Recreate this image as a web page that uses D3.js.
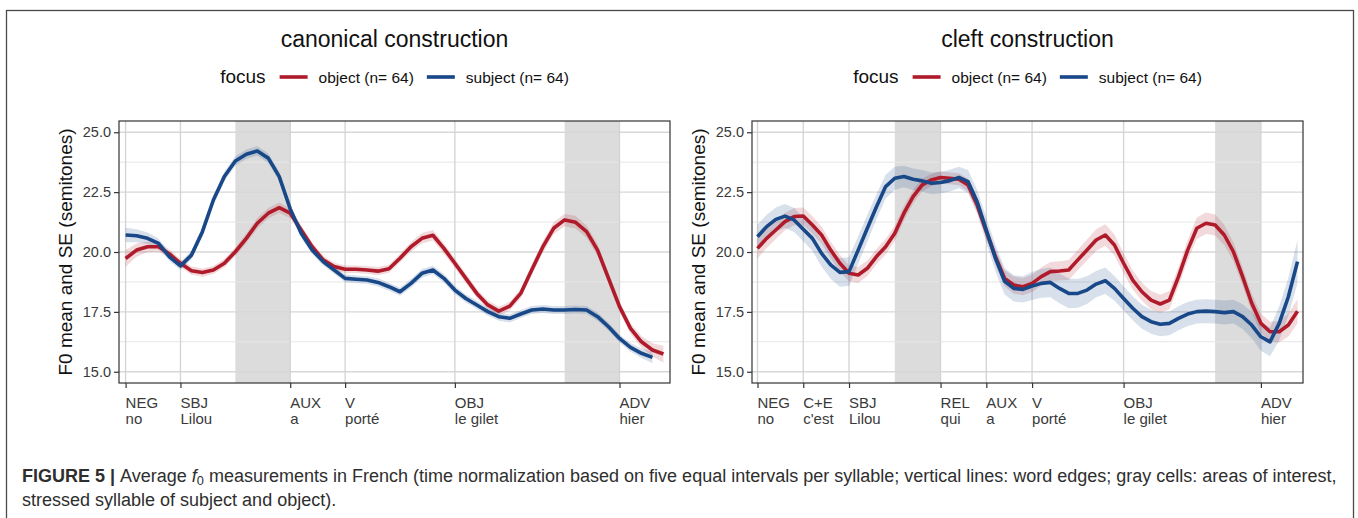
<!DOCTYPE html>
<html>
<head>
<meta charset="utf-8">
<script src="https://cdn.jsdelivr.net/npm/d3@7"></script>
<style>
  html, body { margin: 0; padding: 0; background: #fff; }
  svg { display: block; font-family: "Liberation Sans", Arial, Helvetica, sans-serif; }
</style>
</head>
<body>
<svg id="fig" width="1358" height="518"></svg>
<script>
// ---- words and syllable counts (x axis is in syllables, 5 samples per syllable) ----
const canonicalWords = ["NEG", "SBJ", "AUX", "V", "OBJ", "ADV"];
const canonicalText  = ["no", "Lilou", "a", "porté", "le gilet", "hier"];
const canonicalSyll  = [1, 2, 1, 2, 3, 1];
const canonicalAreas = [[2, 3], [8, 9]];

const cleftWords = ["NEG", "C+E", "SBJ", "REL", "AUX", "V", "OBJ", "ADV"];
const cleftText  = ["no", "c'est", "Lilou", "qui", "a", "porté", "le gilet", "hier"];
const cleftSyll  = [1, 1, 2, 1, 1, 2, 3, 1];
const cleftAreas = [[3, 4], [10, 11]];

const yTicks = [15.0, 17.5, 20.0, 22.5, 25.0];
const yMinor = [16.25, 18.75, 21.25, 23.75];

// ---- F0 means (semitones) ----
const canonicalObject = [
  19.73, 20.08, 20.22, 20.22, 19.92,
  19.53, 19.22, 19.14, 19.25, 19.53,
  20.01, 20.57, 21.20, 21.62, 21.85,
  21.62, 20.92, 20.22, 19.67, 19.39,
  19.28, 19.28, 19.25, 19.20, 19.30,
  19.74, 20.22, 20.57, 20.70, 20.15,
  19.53, 18.90, 18.27, 17.79, 17.53,
  17.74, 18.27, 19.25, 20.20, 20.99,
  21.34, 21.24, 20.85, 20.08, 18.90,
  17.72, 16.81, 16.25, 15.91, 15.74
];
const canonicalSubject = [
  20.71, 20.68, 20.57, 20.36, 19.80,
  19.42, 19.87, 20.85, 22.17, 23.15,
  23.80, 24.08, 24.22, 23.92, 23.15,
  21.80, 20.78, 20.08, 19.60, 19.25,
  18.90, 18.86, 18.83, 18.73, 18.55,
  18.34, 18.69, 19.11, 19.25, 18.90,
  18.41, 18.06, 17.79, 17.51, 17.30,
  17.23, 17.41, 17.58, 17.62, 17.58,
  17.58, 17.60, 17.58, 17.30, 16.88,
  16.39, 16.02, 15.77, 15.60
];
const cleftObject = [
  20.15, 20.57, 20.92, 21.27, 21.48,
  21.50, 21.13, 20.71, 20.08, 19.53,
  19.11, 19.04, 19.32, 19.81, 20.22,
  20.78, 21.62, 22.31, 22.80, 23.01,
  23.11, 23.08, 23.04, 22.80, 21.96,
  20.85, 19.80, 18.90, 18.62, 18.55,
  18.69, 18.97, 19.18, 19.21, 19.25,
  19.67, 20.08, 20.50, 20.71, 20.29,
  19.53, 18.83, 18.34, 17.99, 17.83,
  17.99, 18.97, 20.08, 20.99, 21.20,
  21.13, 20.71, 20.01, 18.97, 17.86,
  17.02, 16.67, 16.67, 16.95, 17.53
];
const cleftSubject = [
  20.64, 21.06, 21.36, 21.50, 21.34,
  20.95, 20.57, 19.94, 19.46, 19.15,
  19.18, 20.08, 20.99, 21.89, 22.73,
  23.08, 23.15, 23.04, 22.97, 22.87,
  22.90, 22.98, 23.11, 22.94, 22.10,
  20.92, 19.74, 18.78, 18.48, 18.44,
  18.58, 18.69, 18.73, 18.48, 18.27,
  18.27, 18.41, 18.66, 18.80, 18.48,
  18.06, 17.65, 17.30, 17.09, 16.98,
  17.02, 17.23, 17.41, 17.51, 17.53,
  17.51, 17.47, 17.51, 17.30, 16.95,
  16.46, 16.25, 17.02, 18.13, 19.60
];

// ---- standard errors ----
const canonicalObjectSE = [
  0.35, 0.28, 0.22, 0.20, 0.18,
  0.17, 0.17, 0.17, 0.17, 0.18,
  0.18, 0.20, 0.22, 0.22, 0.22,
  0.20, 0.20, 0.18, 0.17, 0.16,
  0.16, 0.16, 0.16, 0.17, 0.17,
  0.18, 0.20, 0.22, 0.22, 0.22,
  0.20, 0.20, 0.18, 0.18, 0.18,
  0.18, 0.20, 0.22, 0.24, 0.25,
  0.26, 0.26, 0.26, 0.25, 0.24,
  0.22, 0.22, 0.24, 0.28, 0.35
];
const canonicalSubjectSE = [
  0.30, 0.27, 0.24, 0.20, 0.18,
  0.17, 0.18, 0.20, 0.20, 0.20,
  0.20, 0.20, 0.20, 0.20, 0.20,
  0.20, 0.18, 0.17, 0.16, 0.16,
  0.16, 0.16, 0.16, 0.17, 0.17,
  0.17, 0.18, 0.18, 0.18, 0.18,
  0.17, 0.17, 0.17, 0.17, 0.17,
  0.17, 0.17, 0.17, 0.17, 0.17,
  0.17, 0.17, 0.17, 0.17, 0.17,
  0.17, 0.18, 0.20, 0.25
];
const cleftObjectSE = [
  0.42, 0.40, 0.38, 0.36, 0.36,
  0.36, 0.36, 0.35, 0.35, 0.35,
  0.34, 0.33, 0.32, 0.32, 0.32,
  0.32, 0.30, 0.28, 0.26, 0.25,
  0.25, 0.25, 0.25, 0.26, 0.28,
  0.30, 0.32, 0.34, 0.36, 0.36,
  0.36, 0.38, 0.40, 0.40, 0.42,
  0.42, 0.44, 0.45, 0.45, 0.44,
  0.42, 0.40, 0.38, 0.38, 0.38,
  0.38, 0.40, 0.42, 0.45, 0.45,
  0.44, 0.42, 0.40, 0.38, 0.38,
  0.40, 0.42, 0.45, 0.48, 0.50
];
const cleftSubjectSE = [
  0.50, 0.50, 0.50, 0.50, 0.50,
  0.50, 0.52, 0.55, 0.58, 0.60,
  0.60, 0.58, 0.55, 0.52, 0.50,
  0.48, 0.45, 0.45, 0.45, 0.45,
  0.45, 0.45, 0.45, 0.48, 0.50,
  0.52, 0.55, 0.55, 0.55, 0.55,
  0.58, 0.60, 0.62, 0.62, 0.62,
  0.60, 0.58, 0.55, 0.55, 0.52,
  0.50, 0.50, 0.50, 0.50, 0.50,
  0.50, 0.50, 0.50, 0.50, 0.50,
  0.50, 0.50, 0.50, 0.52, 0.55,
  0.58, 0.60, 0.70, 0.80, 0.90
];

const focusLabels = ["object (n= 64)", "subject (n= 64)"];
const focusColors = ["#b01b2b", "#184888"];

// ---- drawing ----
const svg = d3.select("#fig");
svg.append("rect").attr("width", 1358).attr("height", 518).attr("fill", "#fff");
// outer frame around figure and caption
svg.append("rect")
  .attr("x", 6.5).attr("y", 10.5).attr("width", 1347).attr("height", 540)
  .attr("fill", "none").attr("stroke", "#4a4a4a").attr("stroke-width", 1.3);

const PLOT_TOP = 121, PLOT_BOTTOM = 383;

function cumulative(sylls) {
  const out = [];
  let acc = 0;
  sylls.forEach(s => { out.push(acc); acc += s; });
  return { starts: out, total: acc };
}

function drawPanel(cfg) {
  const { left, right, title, words, texts, sylls, areas, series } = cfg;
  const { starts, total } = cumulative(sylls);
  const x = d3.scaleLinear().domain([-0.12, total - 0.08]).range([left, right]);
  const y = d3.scaleLinear().domain([14.53, 25.47]).range([PLOT_BOTTOM, PLOT_TOP]);
  const g = svg.append("g");

  // gray cells
  g.selectAll("rect.area").data(areas).join("rect")
    .attr("x", d => x(d[0])).attr("width", d => x(d[1]) - x(d[0]))
    .attr("y", PLOT_TOP).attr("height", PLOT_BOTTOM - PLOT_TOP)
    .attr("fill", "#dcdcdc");

  // grid
  g.selectAll("line.ymin").data(yMinor).join("line")
    .attr("x1", left).attr("x2", right)
    .attr("y1", d => y(d)).attr("y2", d => y(d))
    .attr("stroke", "#e6e6e6").attr("stroke-width", 1);
  g.selectAll("line.ymaj").data(yTicks).join("line")
    .attr("x1", left).attr("x2", right)
    .attr("y1", d => y(d)).attr("y2", d => y(d))
    .attr("stroke", "#d7d7d7").attr("stroke-width", 1.3);
  g.selectAll("line.xmaj").data(starts).join("line")
    .attr("x1", d => x(d)).attr("x2", d => x(d))
    .attr("y1", PLOT_TOP).attr("y2", PLOT_BOTTOM)
    .attr("stroke", "#d3d3d3").attr("stroke-width", 1.3);

  // ribbons then lines
  const tx = (d, i) => x(i / 5);
  series.forEach((s, k) => {
    const area = d3.area()
      .x((d, i) => x(i / 5))
      .y0((d, i) => y(d - s.se[i]))
      .y1((d, i) => y(d + s.se[i]));
    g.append("path").datum(s.values).attr("d", area)
      .attr("fill", focusColors[k]).attr("fill-opacity", 0.17);
  });
  series.forEach((s, k) => {
    const line = d3.line().x(tx).y(d => y(d));
    g.append("path").datum(s.values).attr("d", line)
      .attr("fill", "none").attr("stroke", focusColors[k])
      .attr("stroke-width", 3.6).attr("stroke-linejoin", "round").attr("stroke-linecap", "butt");
  });

  // panel border
  g.append("rect").attr("x", left).attr("y", PLOT_TOP)
    .attr("width", right - left).attr("height", PLOT_BOTTOM - PLOT_TOP)
    .attr("fill", "none").attr("stroke", "#333").attr("stroke-width", 1.2);

  // y axis
  const yAxis = g.append("g").attr("transform", `translate(${left},0)`)
    .call(d3.axisLeft(y).tickValues(yTicks).tickFormat(d3.format(".1f")).tickSize(5).tickPadding(3));
  yAxis.select(".domain").remove();
  yAxis.selectAll("line").attr("stroke", "#333").attr("stroke-width", 1.2);
  yAxis.selectAll("text").attr("fill", "#3a3a3a").attr("font-size", 14.5)
    .attr("font-family", "Liberation Sans, Arial, sans-serif");

  // x axis: ticks at word edges, two-line labels
  const xAxis = g.append("g").attr("transform", `translate(0,${PLOT_BOTTOM})`)
    .call(d3.axisBottom(x).tickValues(starts).tickSize(5).tickFormat(""));
  xAxis.select(".domain").remove();
  xAxis.selectAll("line").attr("stroke", "#333").attr("stroke-width", 1.2);
  const lab = g.selectAll("text.xl").data(starts).join("text")
    .attr("x", d => x(d)).attr("y", 408)
    .attr("font-size", 15).attr("fill", "#3a3a3a");
  lab.append("tspan").attr("x", d => x(d)).text((d, i) => words[i]);
  lab.append("tspan").attr("x", d => x(d)).attr("dy", 16).text((d, i) => texts[i]);

  // y axis title
  g.append("text")
    .attr("transform", `translate(${left - 47},${(PLOT_TOP + PLOT_BOTTOM) / 2}) rotate(-90)`)
    .attr("text-anchor", "middle").attr("font-size", 19).attr("fill", "#111")
    .text("F0 mean and SE (semitones)");

  // title
  const cx = (left + right) / 2;
  g.append("text").attr("x", cx).attr("y", 47).attr("text-anchor", "middle")
    .attr("font-size", 23).attr("fill", "#111").text(title);

  // legend
  const leg = g.append("g");
  let pos = 0;
  const base = 83;
  const t0 = leg.append("text").attr("x", pos).attr("y", base).attr("font-size", 19)
    .attr("fill", "#111").text("focus");
  pos += t0.node().getComputedTextLength() + 14;
  focusLabels.forEach((lbl, k) => {
    leg.append("line").attr("x1", pos).attr("x2", pos + 28)
      .attr("y1", base - 6).attr("y2", base - 6)
      .attr("stroke", focusColors[k]).attr("stroke-width", 3.6);
    pos += 28 + 11;
    const t = leg.append("text").attr("x", pos).attr("y", base).attr("font-size", 15.5)
      .attr("fill", "#111").text(lbl);
    pos += t.node().getComputedTextLength() + 13;
  });
  const w = pos - 13;
  leg.attr("transform", `translate(${cx - w / 2},0)`);
}

drawPanel({
  left: 119, right: 670, title: "canonical construction",
  words: canonicalWords, texts: canonicalText, sylls: canonicalSyll, areas: canonicalAreas,
  series: [
    { values: canonicalObject, se: canonicalObjectSE },
    { values: canonicalSubject, se: canonicalSubjectSE }
  ]
});
drawPanel({
  left: 752, right: 1303, title: "cleft construction",
  words: cleftWords, texts: cleftText, sylls: cleftSyll, areas: cleftAreas,
  series: [
    { values: cleftObject, se: cleftObjectSE },
    { values: cleftSubject, se: cleftSubjectSE }
  ]
});

// caption
const cap = svg.append("g").attr("fill", "#2e2e2e");
const line1 = cap.append("text").attr("x", 22).attr("y", 482).attr("font-size", 15.5);
line1.append("tspan").attr("font-weight", "bold").text("FIGURE 5 | ");
line1.append("tspan").text("Average ");
line1.append("tspan").attr("font-style", "italic").text("f");
line1.append("tspan").attr("class", "sub").attr("font-size", 11).attr("dy", 3).text("0");
line1.append("tspan").attr("dy", -3).text(" measurements in French (time normalization based on five equal intervals per syllable; vertical lines: word edges; gray cells: areas of interest,");
const line2 = cap.append("text").attr("x", 22).attr("y", 506).attr("font-size", 15.5)
  .text("stressed syllable of subject and object).");
// fit the first caption line to the frame width
const target = 1315;
const len = line1.node().getComputedTextLength();
const fs = 15.5 * target / len;
line1.attr("font-size", fs);
line1.select("tspan.sub").attr("font-size", fs * 0.71);
line2.attr("font-size", fs);
</script>
</body>
</html>
